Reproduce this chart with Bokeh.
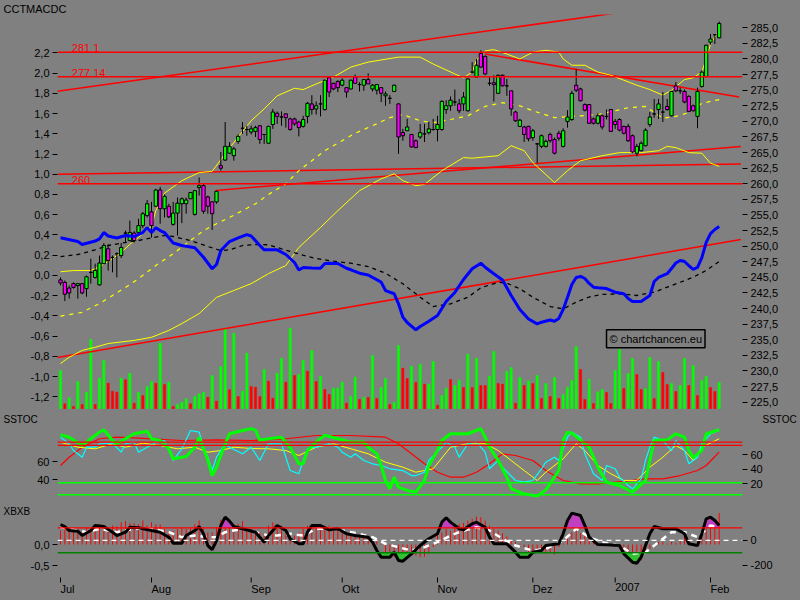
from bokeh.plotting import figure
from bokeh.models import Range1d, LinearAxis, FixedTicker, Label, Span
from bokeh.layouts import column
from bokeh.embed import file_html
from bokeh.resources import INLINE
from bokeh.core.properties import value

FONT = "Liberation Sans"
BG = "#808080"

# ---------------- price data (trading-day index 0 = 3 Jul 2006) ----------------
days = list(range(153))
opens = [244.6,244.2,243.3,244.0,243.7,244.0,243.2,245.8,245.0,243.8,
         247.2,249.6,248.2,248.8,248.5,252.1,250.9,252.1,252.2,253.3,
         254.9,255.5,256.4,259.0,256.0,256.4,253.5,255.3,256.8,256.8,
         257.6,255.1,259.4,259.7,257.9,257.1,257.1,262.9,263.8,264.9,
         264.5,266.8,268.9,268.7,268.3,268.4,269.3,267.9,266.5,269.5,
         271.3,270.7,271.2,270.4,270.4,269.9,269.2,270.8,272.8,272.0,
         272.8,271.9,277.0,276.1,276.4,275.8,275.4,275.2,277.1,275.9,
         275.8,276.7,275.2,275.0,275.4,274.1,273.7,274.8,272.8,268.2,
         268.5,267.9,266.9,267.5,268.0,268.2,268.7,268.7,268.7,271.9,
         272.5,273.1,272.8,272.8,271.7,277.9,277.1,280.9,280.4,276.1,
         276.2,274.5,277.4,275.7,274.9,271.5,269.2,269.1,269.2,267.4,
         266.4,266.0,266.0,267.9,267.1,268.1,266.0,270.0,270.3,275.8,
         275.2,272.7,272.7,270.4,269.7,270.9,270.8,271.9,270.0,270.3,
         269.2,269.2,267.7,264.9,265.3,266.1,269.5,271.2,271.9,271.5,
         272.4,270.9,275.7,274.9,274.8,274.0,272.5,270.8,275.6,277.2,
         282.7,283.9,283.4]
highs = [245.0,244.5,243.7,244.2,244.1,244.1,245.3,248.0,247.2,248.5,
         250.5,250.3,248.5,249.0,250.5,252.5,254.1,252.4,254.4,255.5,
         257.4,257.1,259.2,259.5,258.3,256.8,257.1,257.8,257.8,257.8,
         258.7,259.0,261.0,260.0,258.1,257.2,258.9,265.1,269.9,266.7,
         265.9,267.9,269.9,269.3,269.3,269.3,269.3,268.0,269.3,272.0,
         271.6,271.6,271.3,270.6,270.6,270.1,270.9,273.1,274.2,273.2,
         274.2,276.7,277.1,276.2,276.6,276.9,275.5,276.7,277.5,276.3,
         276.8,277.7,276.0,276.0,275.5,274.8,274.2,275.9,272.9,268.8,
         270.4,268.0,267.1,269.6,269.6,269.9,270.4,270.9,273.4,273.4,
         274.0,275.1,273.6,274.7,276.9,279.5,280.0,281.4,280.6,277.2,
         277.4,277.5,277.5,276.8,274.9,271.7,270.4,269.3,269.3,268.8,
         266.5,267.9,267.1,268.2,267.4,268.5,268.9,271.8,274.9,278.4,
         275.4,272.9,272.7,270.6,271.3,271.1,271.9,272.0,270.4,270.5,
         269.3,269.6,267.9,266.4,266.8,268.9,271.5,273.6,273.6,274.7,
         273.6,274.9,276.3,275.4,275.1,274.2,272.7,275.4,278.2,282.3,
         284.0,284.0,286.0]
lows = [243.7,241.2,241.6,243.2,241.6,242.3,241.9,244.0,244.8,243.7,
        247.1,246.1,245.8,245.0,248.1,250.6,250.8,250.6,252.0,252.9,
        254.6,251.4,256.3,253.6,254.6,254.5,253.3,251.7,253.7,255.2,
        257.6,254.9,258.1,255.2,255.2,252.6,256.8,262.1,263.7,264.8,
        263.7,266.4,268.0,267.7,267.9,267.5,266.4,266.4,266.5,268.8,
        269.6,269.3,269.0,268.5,269.3,267.6,269.0,269.7,271.1,271.1,
        270.8,271.7,273.9,275.0,274.7,275.6,273.8,275.1,276.0,274.8,
        274.9,276.0,274.8,274.3,273.1,272.5,272.8,274.7,264.8,266.9,
        268.5,265.8,265.7,267.2,266.7,267.9,268.5,266.8,268.5,271.2,
        271.7,272.5,271.3,271.7,271.6,277.7,277.1,278.6,277.4,275.7,
        273.2,274.5,275.6,274.1,270.9,269.9,269.1,266.7,266.8,266.9,
        263.3,265.7,265.8,266.6,264.7,266.9,265.8,269.0,270.1,274.7,
        273.2,271.6,269.7,269.5,269.5,268.7,270.3,268.3,268.8,268.4,
        267.9,266.7,264.9,264.4,265.2,266.0,269.1,270.6,270.4,269.9,
        271.7,270.8,274.7,274.4,272.9,271.5,271.6,268.9,275.4,277.0,
        282.3,282.4,283.3]
closes = [244.1,242.3,242.5,243.4,244.0,242.5,245.1,245.8,246.1,247.3,
          250.1,247.7,248.2,248.8,249.8,252.1,252.2,250.9,253.3,255.2,
          256.8,253.3,259.0,256.0,258.0,254.7,255.3,256.9,257.6,257.4,
          258.6,258.9,259.7,255.6,256.4,255.2,258.8,262.5,266.0,266.0,
          265.6,267.6,268.9,268.7,268.8,269.0,267.1,267.9,269.2,271.5,
          270.8,270.7,270.6,268.7,269.6,269.0,270.3,272.9,271.9,272.5,
          272.8,276.6,274.7,275.2,275.4,276.6,274.7,276.6,276.1,275.9,
          276.7,276.0,275.8,275.9,274.5,274.4,273.7,275.8,267.5,267.7,
          269.1,265.9,265.8,268.2,268.0,268.8,268.7,269.5,273.2,272.5,
          273.4,273.1,271.7,273.9,276.8,277.9,279.0,278.7,277.6,276.1,
          275.9,277.4,275.7,275.7,272.0,270.1,270.2,267.9,267.2,268.5,
          266.4,267.7,266.8,266.9,264.9,267.3,268.5,270.7,274.5,275.0,
          273.3,271.8,269.7,269.7,270.9,269.1,270.8,268.4,269.5,268.6,
          268.1,266.9,265.1,266.0,266.5,268.6,270.7,271.2,272.8,271.5,
          271.9,274.8,274.9,274.9,273.1,271.6,271.7,274.8,277.9,282.2,
          283.2,283.9,285.7]
volume = [38.3,5,11,2.3,27.3,4.3,16.6,69.3,4.3,30.6,
          48.3,25.6,17.6,16.6,30.6,29,35.6,5.6,16.6,13.3,
          22.3,27.3,25.6,65.6,24.3,26.6,2.3,4.3,6.6,10,
          5,12.3,15,16.6,11.6,33.3,7.6,42.3,80,19,
          75.6,12.3,17.6,55.6,22.3,21.6,12.3,39.3,27.6,10.6,
          35.6,50.6,26.6,80.6,33.3,34.3,
          48.3,37.6,58.3,27.3,32.6,19.3,14.3,20.6,20.6,26.6,
          5.6,12.3,31.6,9.3,11.3,11.3,53.3,10.3,21.3,30.3,
          4.3,6.3,63.3,40.6,30.3,42.6,26.3,44.6,24.6,24.6,
          47.3,3.6,13.3,20.6,29.3,23.3,28.6,21.3,54.6,21.3,
          50.6,23.3,23.3,32.6,57.3,25.3,24.6,37.3,41.3,5.6,
          31.3,23.3,28,25.3,33.3,10.3,25.3,12.3,31.3,10.3,
          14.3,21.6,28.3,62.3,39.3,9.3,29.3,5.3,17,19.3,
          16.3,5.3,38.3,59.3,20.3,35.3,50.3,34.3,19.3,20.3,
          51.3,10.3,47.3,36.3,24.3,25.3,17.3,23.3,50.3,23.3,
          43.3,13.3,28.3,32.3,21.3,17.3,26.3]
volume_up = [1,0,1,0,1,0,1,1,0,1, 1,0,0,0,1,0,1,0,1,0, 1,1,0,1,0,1,0,1,1,1,
             0,1,1,1,0,1,0,1,1,0, 1,0,1,1,0,0,0,1,0,0, 1,1,0,1,0,1,
             1,0,1,0,1,0,0,1,1,1, 0,1,1,0,1,0,1,0,1,1, 0,1,1,0,0,1,0,1,0,1,
             1,0,1,1,0,1,1,0,1,0, 1,0,0,1,1,0,0,1,1,0, 1,0,1,0,1,0,1,0,1,0,
             1,1,1,1,0,0,1,0,1,1, 0,0,1,1,0,1,1,0,0,1, 1,0,1,0,0,1,0,1,1,0,
             1,0,1,1,0,0,1]

# Bollinger bands (upper / middle / lower)
bbu_x = [0,3,7,9,12,14,16,18,21,22,24,26,28,32,35,38,41,44,47,50,54,56,59,63,67,71,78,83,86,91,
         93,95,96,98,100,103,106,109,112,115,116,118,121,124,127,130,133,136,139,141,144,146,148,149,150,152]
bbu = [245.9,246.1,246.1,246.7,248.0,249.0,250.3,251.4,253.2,255.7,258.5,259.5,260.5,261.8,262.0,264.8,
       267.5,270.1,272.0,274.1,275.3,275.1,276.0,277.1,278.7,279.5,280.3,280.3,279.2,277.6,277.0,277.9,
       279.8,281.3,281.5,280.8,280.0,281.1,281.4,281.1,280.0,279.0,279.0,277.9,277.4,276.6,275.8,275.1,
       274.2,275.0,276.7,277.0,277.9,280.0,282.4,284.6]
bbm_x = [0,5,9,12,15,18,22,26,30,33,36,39,42,45,48,52,55,58,61,65,68,72,76,79,83,86,90,94,98,102,
         106,109,114,120,124,128,131,135,139,142,145,148,152]
bbm = [238.8,239.4,240.8,242.1,243.4,244.8,246.9,248.8,250.9,252.5,253.6,254.6,255.7,256.8,258.3,260.0,
       262.1,263.7,265.3,266.9,268.1,269.3,270.6,271.1,270.1,269.8,270.3,270.9,272.4,273.0,272.5,271.7,
       270.6,270.9,271.1,271.7,272.2,272.4,270.5,270.8,271.4,272.9,273.5]
bbl_x = [0,2,5,8,11,17,21,25,28,32,36,40,44,48,52,55,60,64,69,74,77,79,82,84,88,93,95,101,104,107,
         109,114,117,120,125,129,134,138,140,142,145,148,150,152]
bbl = [231.2,232.2,233.3,233.8,234.4,234.9,235.4,236.5,237.6,239.2,241.8,242.9,244.0,245.6,246.9,249.8,
       253.0,255.7,258.9,260.8,261.6,260.5,259.7,259.9,262.1,264.2,264.1,264.5,266.1,265.3,263.4,260.2,
       262.1,263.7,264.5,265.0,265.0,265.3,266.0,265.8,265.0,264.9,263.3,262.8]

# MACD line and signal (left axis)
macd_x = [0,4,5,8,9,10,11,13,15,17,19,20,21,22,23,24,26,28,31,33,35,36,37,39,41,43,44,46,47,50,
          52,54,55,56,58,60,61,62,64,66,67,69,71,74,75,77,78,79,80,82,83,85,87,89,91,93,95,97,98,100,
          102,104,106,108,110,111,113,114,115,116,117,118,119,120,121,122,123,124,126,128,
          130,131,132,134,136,137,138,140,141,142,143,144,145,146,147,148,149,150,151,152]
macd = [0.372,0.335,0.306,0.340,0.362,0.424,0.390,0.370,0.395,0.385,0.424,0.471,0.424,0.471,0.444,0.424,
        0.321,0.296,0.273,0.180,0.066,0.108,0.246,0.335,0.372,0.404,0.390,0.296,0.253,0.253,0.207,0.128,
        0.054,0.078,0.074,0.072,0.118,0.121,0.118,0.071,0.056,0.022,0.004,-0.066,-0.149,-0.181,-0.280,
        -0.412,-0.465,-0.537,-0.504,-0.452,-0.396,-0.257,-0.168,-0.040,0.066,0.121,0.081,0.017,-0.045,
        -0.198,-0.336,-0.430,-0.478,-0.462,-0.440,-0.452,-0.425,-0.336,-0.215,-0.089,-0.020,-0.010,-0.030,
        -0.079,-0.116,-0.122,-0.129,-0.165,-0.181,-0.228,-0.258,-0.258,-0.198,-0.060,-0.020,0.017,0.069,
        0.123,0.148,0.138,0.098,0.059,0.079,0.177,0.326,0.414,0.454,0.484]
sig_x = [0,4,8,11,14,18,21,24,26,30,34,37,39,42,45,48,51,55,59,63,67,71,75,79,83,86,90,94,97,101,
         103,106,109,113,116,119,122,125,129,133,137,140,143,146,149,152]
sig = [0.187,0.207,0.253,0.296,0.319,0.345,0.372,0.395,0.385,0.345,0.286,0.246,0.253,0.296,0.306,0.303,
       0.263,0.212,0.167,0.141,0.121,0.088,0.022,-0.082,-0.215,-0.307,-0.280,-0.215,-0.122,-0.067,-0.076,
       -0.132,-0.215,-0.307,-0.330,-0.264,-0.213,-0.188,-0.181,-0.198,-0.165,-0.116,-0.067,-0.017,0.049,0.138]

# drawn levels and trend lines (price units)
levels = [281.1, 277.14, 260.0]
level_labels = ["281.1", "277.14", "260"]
trend_up_x, trend_up_y = [-0.7, 146.3], [274.84, 289.13]
trend_dn_x, trend_dn_y = [98.0, 156.6], [280.8, 273.9]
trend_l1_x, trend_l1_y = [-0.7, 157.0], [261.54, 263.19]
trend_l2_x, trend_l2_y = [35.8, 157.0], [258.93, 265.98]
trend_lo_x, trend_lo_y = [-0.7, 157.0], [232.16, 251.07]

# SSTOC panel
slow_x = [0,2,5,7,9,10,12,13,15,17,20,21,23,25,26,29,31,32,34,35,36,38,39,42,44,45,46,48,51,53,
          55,56,57,59,61,64,67,70,71,73,74,75,76,77,78,80,82,84,85,87,88,90,94,97,98,99,101,103,104,107,
          110,112,115,116,117,118,122,124,126,129,132,135,136,137,140,142,144,145,146,148,149,152]
slow = [87.6,84.3,72.8,82.1,91.2,94.5,79.7,75.2,82.1,89.0,92.6,82.1,79.7,68.3,54.5,57.7,70.5,84.3,52.4,31.4,
        42.9,75.2,89.0,93.5,96.0,94.0,80.0,82.0,84.3,70.5,47.6,47.6,66.0,77.7,86.9,82.1,77.5,77.5,70.5,61.3,
        45.2,24.6,13.1,29.2,15.4,10.8,8.6,24.6,45.2,65.9,79.7,89.0,89.0,95.9,84.3,70.5,52.1,29.1,13.1,6.2,
        3.0,11.6,38.3,79.7,91.2,89.8,70.5,42.9,22.2,17.7,8.4,24.6,52.1,79.7,80.6,88.9,84.3,66.0,55.9,66.0,
        89.0,94.5]
fast_x = [0,2,3,5,6,8,9,12,14,15,17,18,20,22,24,26,28,30,32,33,34,35,36,38,39,42,44,46,48,51,
          52,53,55,56,57,59,62,64,65,67,68,70,72,74,76,79,81,82,84,85,88,89,91,92,94,96,98,99,101,102,
          105,107,109,111,112,114,115,117,118,120,121,123,125,126,128,129,131,132,134,135,
          136,137,139,141,142,144,145,147,148,150,152]
fast = [84.3,75.2,65.9,56.7,70.5,70.5,75.2,76.0,63.6,75.2,77.4,63.6,70.5,77.4,79.7,52.1,68.3,93.5,91.2,70.5,
        56.7,38.3,56.7,75.2,70.5,61.4,70.5,52.1,75.2,75.2,56.7,38.3,33.8,52.1,68.3,70.5,75.2,70.5,63.6,56.7,
        61.4,52.1,47.6,45.2,40.7,38.3,31.4,31.4,36.0,52.1,70.5,77.4,70.5,56.7,75.2,77.4,63.6,40.7,52.1,42.9,
        24.6,22.2,24.6,40.7,49.8,56.7,52.1,84.3,91.2,84.3,61.4,33.8,24.6,45.2,40.7,29.1,17.7,13.1,26.9,52.1,
        70.5,84.3,79.7,65.9,79.7,65.9,47.6,56.7,75.2,89.0,93.5]
avg_x = [0,4,8,12,15,19,23,27,31,34,37,40,44,48,52,55,59,63,67,71,75,79,82,86,90,94,98,101,104,107,
         110,112,116,119,121,124,127,130,133,136,139,142,144,146,148,152]
avg = [77.4,70.5,68.3,75.2,70.5,76.0,72.8,68.3,70.5,63.6,65.9,70.5,68.7,68.3,65.9,59.0,70.5,75.2,68.3,61.4,
       49.8,42.9,36.0,40.7,70.5,75.2,75.2,65.9,52.1,38.3,24.6,36.0,54.5,75.2,65.9,45.2,33.8,24.6,24.6,42.9,
       56.7,72.8,65.9,52.1,70.5,82.1]
red_x = [0,2,5,9,13,17,21,28,36,44,52,59,67,75,78,81,84,87,90,93,96,99,102,105,109,112,116,120,124,128,
         132,135,139,143,147,149,152]
redv = [45.2,56.7,70.5,82.1,84.3,83.4,82.1,79.7,80.7,79.7,82.1,86.6,86.6,84.3,75.2,61.4,47.6,36.0,29.1,29.1,
        36.0,47.6,61.4,59.0,52.1,38.3,24.6,20.0,20.0,22.2,24.6,26.9,26.9,31.4,38.3,45.2,63.6]
sstoc_red_levels = [77.5, 73.0]
sstoc_green_levels = [21.5, 5.0]

# XBXB panel
cci_x = [0,1,2,4,5,7,8,10,12,13,15,16,18,21,23,25,26,28,29,31,32,33,34,35,36,37,38,39,40,42,
         45,46,47,48,50,52,53,55,56,57,58,60,62,64,66,68,71,72,73,74,76,77,78,79,81,83,85,87,88,89,
         90,92,93,95,96,98,99,100,103,105,106,108,109,111,112,115,116,117,118,120,
         121,122,124,126,129,130,132,133,134,135,136,137,139,142,144,145,147,148,149,150,151,152]
cci = [126,110,78,73,38,78,118,110,65,38,65,105,100,78,65,25,-23,-23,38,78,110,52,-42,-74,-2,118,185,153,110,92,
       65,25,-15,38,118,78,12,-28,-28,65,118,118,84,92,52,38,25,-15,-82,-135,-135,-95,-162,-167,-108,-42,12,52,145,180,
       145,92,84,132,145,105,25,-28,-28,-95,-135,-135,-95,-82,-42,-28,52,158,217,198,
       118,25,-34,-36,-42,-108,-175,-183,-135,-42,52,110,92,92,52,-28,-42,52,172,185,158,118]
ccs_x = [0,6,9,13,17,21,25,28,31,34,36,38,42,45,48,50,53,56,59,62,65,69,72,75,78,81,84,87,90,93,
         96,99,102,105,109,112,116,119,122,125,129,132,135,138,141,144,147,150,152]
ccs = [105,65,92,65,92,92,65,25,38,25,25,65,92,65,38,38,52,38,92,92,78,52,25,-28,-55,-82,-55,-15,38,78,
       105,78,12,-42,-82,-68,-2,92,25,-15,-42,-108,-95,-15,65,65,25,118,105]
hist = [0.33,0.37,0.41,0.33,0.37,0.29,0.41,0.37,0.45,0.49,
        0.45,0.41,0.45,0.43,0.53,0.56,0.51,0.51,0.48,0.57,
        0.45,0.53,0.48,0.48,0.37,0.29,0.33,0.37,0.41,0.37,
        0.40,0.48,0.57,0.37,0.29,0.29,0.41,0.59,0.63,0.53,
        0.45,0.49,0.56,0.41,0.37,0.33,0.29,0.25,0.45,0.53,
        0.37,0.45,0.29,0.21,0.21,0.29,0.37,0.45,0.45,0.41,
        0.49,0.45,0.45,0.41,0.40,0.33,0.29,0.24,0.21,0.17,
        0.21,0.17,0.11,0.08,0.02,-0.22,-0.34,-0.30,-0.24,-0.29,
        -0.30,-0.22,-0.26,-0.30,-0.29,-0.21,-0.06,0.25,0.29,0.37,
        0.33,0.45,0.49,0.51,0.57,0.61,0.67,0.65,0.57,0.45,
        0.37,0.33,0.27,0.19,0.10,0.06,0.02,-0.06,-0.18,-0.18,
        -0.14,-0.18,-0.22,-0.20,-0.24,-0.06,0.02,0.21,0.29,0.37,
        0.27,0.25,0.17,0.06,0.02,-0.02,0.0,-0.02,-0.06,-0.10,
        -0.18,-0.26,-0.34,-0.46,-0.38,-0.22,-0.10,0.02,0.06,0.06,
        0.02,0.06,0.04,0.10,0.21,0.13,0.02,0.10,0.21,0.37,
        0.51,0.61,0.75]
cci_upper, cci_lower = 100, -100

# axes / ticks
month_idx = [0, 21, 44, 65, 87, 109, 128, 150]
month_labels = ["Jul", "Aug", "Sep", "Okt", "Nov", "Dez", "2007", "Feb"]
price_ticks = [285.0,282.5,280.0,277.5,275.0,272.5,270.0,267.5,265.0,262.5,260.0,257.5,255.0,
               252.5,250.0,247.5,245.0,242.5,240.0,237.5,235.0,232.5,230.0,227.5,225.0]
price_labels = ["285,0","282,5","280,0","277,5","275,0","272,5","270,0","267,5","265,0","262,5",
                "260,0","257,5","255,0","252,5","250,0","247,5","245,0","242,5","240,0","237,5",
                "235,0","232,5","230,0","227,5","225,0"]
macd_ticks = [2.2,2.0,1.8,1.6,1.4,1.2,1.0,0.8,0.6,0.4,0.2,0.0,-0.2,-0.4,-0.6,-0.8,-1.0,-1.2]
macd_labels = ["2,2","2,0","1,8","1,6","1,4","1,2","1,0","0,8","0,6","0,4","0,2","0,0",
               "-0,2","-0,4","-0,6","-0,8","-1,0","-1,2"]
sst_left_ticks, sst_left_labels = [60, 40], ["60", "40"]
sst_right_ticks, sst_right_labels = [60, 40, 20], ["60", "40", "20"]
xb_left_ticks, xb_left_labels = [0.0, -0.5], ["0,0", "-0,5"]
xb_right_ticks, xb_right_labels = [0, -200], ["0", "-200"]

# ---------------- helpers ----------------
X0, X1 = -0.692, 157.38
xr = Range1d(X0, X1)


def style_axis(ax, ticks, labels):
    ax.ticker = FixedTicker(ticks=ticks)
    ax.major_label_overrides = dict(zip(ticks, labels))
    ax.axis_line_color = None
    ax.major_tick_in = 0
    ax.major_tick_out = 5
    ax.major_tick_line_color = "black"
    ax.minor_tick_line_color = None
    ax.major_label_text_font = FONT
    ax.major_label_text_font_size = "11px"
    ax.major_label_text_color = "black"
    ax.major_label_standoff = 3


def make_fig(h, yr, top=0):
    f = figure(frame_width=685, frame_height=h, x_range=xr, y_range=yr,
               output_backend="svg", toolbar_location=None,
               min_border_left=57, min_border_right=58, min_border_top=top,
               min_border_bottom=0,
               background_fill_color=BG, border_fill_color=BG, outline_line_color=None,
               y_axis_location="right", x_axis_location=None)
    f.grid.visible = False
    return f


def threshold_fill(xs, ys, thr, above):
    ox, oy = [], []
    for k in range(len(xs)):
        if k > 0:
            a, b = ys[k - 1] - thr, ys[k] - thr
            if a * b < 0:
                t = a / (a - b)
                ox.append(xs[k - 1] + t * (xs[k] - xs[k - 1]))
                oy.append(thr)
        ox.append(xs[k])
        oy.append(ys[k])
    clip = [max(v, thr) if above else min(v, thr) for v in oy]
    return ox, clip


def panel_label(fig, side, text, x, xoff, y, yoff, size="10px"):
    fig.add_layout(Label(x=x, y=y, x_offset=xoff, y_offset=yoff, text=text,
                         text_font=FONT, text_font_size=size, text_color="black",
                         text_baseline="top", text_align="left"), side)


# ---------------- main panel ----------------
P_TOP, P_BOT = 287.131, 223.829
p1 = make_fig(395, Range1d(P_BOT, P_TOP), top=14)
p1.extra_y_ranges = {"macd": Range1d(-1.3245, 2.5785), "vol": Range1d(-0.7, 394.3)}
style_axis(p1.yaxis[0], price_ticks, price_labels)
lax = LinearAxis(y_range_name="macd")
style_axis(lax, macd_ticks, macd_labels)
p1.add_layout(lax, "left")

vcol = ["#00ff00" if u else "#ff0000" for u in volume_up]
p1.vbar(x=days, top=volume, bottom=0, width=0.5, y_range_name="vol",
        fill_color=vcol, line_color=vcol, line_width=0.5)

for lv in levels:
    p1.add_layout(Span(location=lv, dimension="width", line_color="#ff0000", line_width=1.5))
for tx, ty in [(trend_up_x, trend_up_y), (trend_dn_x, trend_dn_y), (trend_l1_x, trend_l1_y),
               (trend_l2_x, trend_l2_y), (trend_lo_x, trend_lo_y)]:
    p1.line(tx, ty, color="#ff0000", line_width=1.5)
p1.text(x=[2.6] * len(levels), y=levels, text=level_labels, text_font=value(FONT),
        text_font_size="11px", text_color="#ff0000", text_baseline="bottom", text_align="left")

p1.line(bbu_x, bbu, color="#ffff00", line_width=1)
p1.line(bbm_x, bbm, color="#ffff00", line_width=1.2, line_dash="4 5")
p1.line(bbl_x, bbl, color="#ffff00", line_width=1)

body_col = ["#00ff00" if c > o else ("#ff00ff" if c < o else "#000000") for o, c in zip(opens, closes)]
p1.segment(x0=days, y0=lows, x1=days, y1=highs, color="black", line_width=1)
p1.vbar(x=days, width=0.75, top=[max(o, c) for o, c in zip(opens, closes)],
        bottom=[min(o, c) for o, c in zip(opens, closes)],
        fill_color=body_col, line_color="black", line_width=1)

p1.line(sig_x, sig, y_range_name="macd", color="black", line_width=1.3, line_dash="4 4")
p1.line(macd_x, macd, y_range_name="macd", color="#0000ff", line_width=3)

p1.add_layout(Label(x=126.0, y=233.71, text="\u00a9 chartchancen.eu", text_font=FONT,
                    text_font_size="11px", text_color="black", text_baseline="bottom",
                    text_align="left", border_line_color="black", border_line_width=1.5,
                    padding=3))
panel_label(p1, "above", "CCTMACDC", X0, -54, P_TOP, 12, size="11px")

# ---------------- SSTOC panel ----------------
S_TOP = 122.48
p2 = make_fig(91, Range1d(-3.03, S_TOP))
p2.extra_y_ranges = {"left": Range1d(16.67, 117.78)}
style_axis(p2.yaxis[0], sst_right_ticks, sst_right_labels)
lax2 = LinearAxis(y_range_name="left")
style_axis(lax2, sst_left_ticks, sst_left_labels)
p2.add_layout(lax2, "left")
for lv in sstoc_red_levels:
    p2.add_layout(Span(location=lv, dimension="width", line_color="#ff0000", line_width=1.2))
for lv in sstoc_green_levels:
    p2.add_layout(Span(location=lv, dimension="width", line_color="#00ff00", line_width=1.5))
p2.line(red_x, redv, color="#ff0000", line_width=1.2)
p2.line(avg_x, avg, color="#ffff00", line_width=1)
p2.line(fast_x, fast, color="#00ffff", line_width=1.2)
p2.line(slow_x, slow, color="#00ff00", line_width=3)
panel_label(p2, "left", "SSTOC", X0, -54, S_TOP, -4)
panel_label(p2, "right", "SSTOC", X1, 20, S_TOP, -4)

# ---------------- XBXB panel ----------------
C_TOP = 318.4
p3 = make_fig(100, Range1d(-481.6, C_TOP))
p3.extra_y_ranges = {"left": Range1d(-1.3333, 1.0476)}
style_axis(p3.yaxis[0], xb_right_ticks, xb_right_labels)
lax3 = LinearAxis(y_range_name="left")
style_axis(lax3, xb_left_ticks, xb_left_labels)
p3.add_layout(lax3, "left")

p3.segment(x0=days, y0=[0] * len(days), x1=days, y1=hist, y_range_name="left",
           color="#ff0000", line_width=1)
fx, fy = threshold_fill(cci_x, cci, cci_upper, True)
p3.varea(x=fx, y1=[cci_upper] * len(fx), y2=fy, fill_color="#c040c0")
gx, gy = threshold_fill(cci_x, cci, cci_lower, False)
p3.varea(x=gx, y1=gy, y2=[cci_lower] * len(gx), fill_color="#30c030")
p3.add_layout(Span(location=cci_upper, dimension="width", line_color="#ff0000", line_width=1.2))
p3.add_layout(Span(location=cci_lower, dimension="width", line_color="#008000", line_width=1.5))
p3.add_layout(Span(location=0, dimension="width", line_color="white", line_width=1.2, line_dash="5 4"))
p3.line(ccs_x, ccs, color="white", line_width=2.5, line_dash="6 5")
p3.line(cci_x, cci, color="black", line_width=3)
panel_label(p3, "left", "XBXB", X0, -54, C_TOP, -5)

# time axis: month ticks and labels drawn on the x scale at the panel bottom
TICK_TOP, TICK_BOT, LABEL_Y = -297.6, -337.6, -345.0
p3.segment(x0=month_idx, y0=[TICK_TOP] * len(month_idx), x1=month_idx,
           y1=[TICK_BOT] * len(month_idx), color="black", line_width=1)
p3.text(x=month_idx, y=[LABEL_Y] * len(month_idx), text=month_labels, text_font=value(FONT),
        text_font_size="11px", text_color="black", text_baseline="top", text_align="left")

layout = column(p1, p2, p3, spacing=0, styles={"background-color": BG})
open("out.html", "w").write(file_html(layout, INLINE))
